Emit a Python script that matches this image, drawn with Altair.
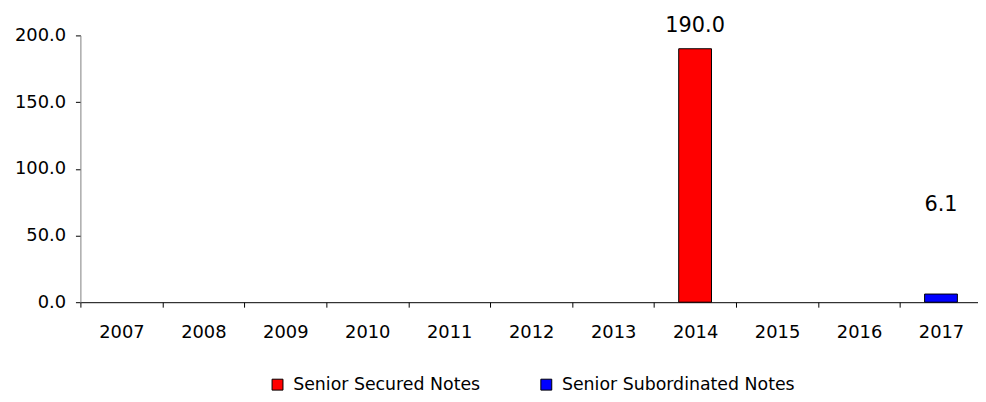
import altair as alt
import pandas as pd

years = ["2007", "2008", "2009", "2010", "2011", "2012", "2013", "2014", "2015", "2016", "2017"]
series_names = ["Senior Secured Notes", "Senior Subordinated Notes"]
secured = [0, 0, 0, 0, 0, 0, 0, 190.0, 0, 0, 0]
subordinated = [0, 0, 0, 0, 0, 0, 0, 0, 0, 0, 6.1]
colors = ["#FF0000", "#0000FF"]

rows = []
for name, vals in zip(series_names, [secured, subordinated]):
    for y, v in zip(years, vals):
        if v > 0:
            rows.append({"year": y, "series": name, "value": v})
df = pd.DataFrame(rows)

FONT = "DejaVu Sans"

x_enc = alt.X(
    "year:N",
    scale=alt.Scale(domain=years, paddingInner=0, paddingOuter=0),
    axis=alt.Axis(
        title=None, labelAngle=0, tickBand="extent", labelFont=FONT, labelFontSize=18,
        labelColor="black", domainColor="black", tickColor="black", tickSize=5,
        labelPadding=17, grid=False,
    ),
)
y_enc = alt.Y(
    "value:Q",
    scale=alt.Scale(domain=[0, 200], nice=False),
    axis=alt.Axis(
        title=None, values=[0, 50, 100, 150, 200], format=".1f", labelFont=FONT,
        labelFontSize=18, labelColor="black", domainColor="#808080", tickColor="black",
        tickSize=5, labelPadding=10, grid=False,
    ),
)

bars = alt.Chart(df).mark_bar(width={"band": 0.4}, stroke="black", strokeWidth=1).encode(
    x=x_enc,
    y=y_enc,
    color=alt.Color(
        "series:N",
        scale=alt.Scale(domain=series_names, range=colors),
        legend=alt.Legend(
            title=None, orient="none", direction="horizontal", legendX=190, legendY=343,
            symbolType="square", symbolSize=121, symbolStrokeColor="black", symbolStrokeWidth=1,
            labelFont=FONT, labelFontSize=17.5, labelColor="black", columnPadding=57,
            symbolOffset=0, labelOffset=7, labelLimit=0,
        ),
    ),
)

base_text = alt.Chart(df).encode(
    x=alt.X("year:N", scale=alt.Scale(domain=years)),
    y=alt.Y("value:Q"),
    text=alt.Text("value:Q", format=".1f"),
)
lab1 = base_text.transform_filter(alt.datum.series == series_names[0]).mark_text(
    font=FONT, fontSize=21, color="black", baseline="middle", dy=-23
)
lab2 = base_text.transform_filter(alt.datum.series == series_names[1]).mark_text(
    font=FONT, fontSize=21, color="black", baseline="middle", dy=-90
)

chart = alt.layer(bars, lab1, lab2).properties(
    width=909, height=269,
    background="white",
    autosize=alt.AutoSizeParams(type="none"),
    padding={"left": 73, "top": 26, "right": -4, "bottom": 99},
).configure_view(strokeWidth=0).configure_axis(grid=False)

chart.save("out.html", embed_options={"renderer": "svg", "actions": False})
